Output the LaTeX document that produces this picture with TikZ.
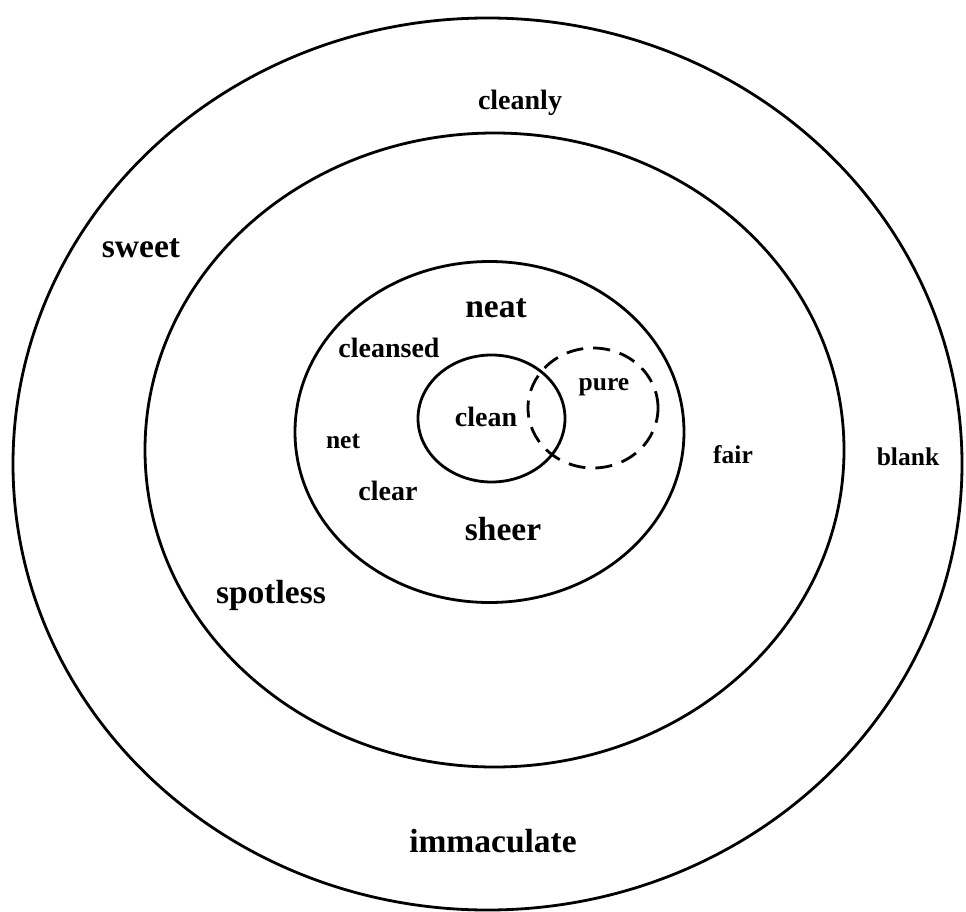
\documentclass[tikz,border=0pt]{standalone}
\usepackage{fontspec}
\setmainfont{Liberation Serif}
\usetikzlibrary{shapes.geometric, positioning}

\begin{document}
\begin{tikzpicture}[x=1pt, y=-1pt, line width=2.8pt,
    ring/.style={draw, ellipse, inner sep=0pt},
    overlap/.style={draw, ellipse, inner sep=0pt, dash pattern=on 17pt off 10pt},
    bigword/.style={anchor=base, inner sep=0pt, font=\fontsize{33.5}{36}\selectfont\bfseries},
    word/.style={anchor=base, inner sep=0pt, font=\fontsize{28}{32}\selectfont\bfseries},
    smallword/.style={anchor=base, inner sep=0pt, font=\fontsize{25.5}{30}\selectfont\bfseries}]

    \useasboundingbox[fill=white] (0,0) rectangle (966,912);

    % Rings
    \node (outer) [ring, minimum width=949pt, minimum height=892pt] at (487.5,464) {};
    \node (middle) [ring, minimum width=699pt, minimum height=634pt] at (494.5,450) {};
    \node (inner) [ring, minimum width=389pt, minimum height=341pt] at (489.5,432) {};
    \node (core) [ring, minimum width=147pt, minimum height=127pt] at (491.5,418.5) {};
    \node (side) [overlap, minimum width=130pt, minimum height=120pt] at (593,408) {};

    % Words
    \node (cleanly) [word] at (520,110) {cleanly};
    \node (sweet) [bigword] at (141,257) {sweet};
    \node (neat) [bigword] at (496,317) {neat};
    \node (cleansed) [word] at (389,357) {cleansed};
    \node (pure) [smallword] at (604,390) {pure};
    \node (clean) [word] at (486,426) {clean};
    \node (net) [smallword] at (343,448) {net};
    \node (fair) [smallword] at (733,463) {fair};
    \node (blank) [smallword] at (908,465) {blank};
    \node (clear) [word] at (388,500) {clear};
    \node (sheer) [bigword] at (503,540) {sheer};
    \node (spotless) [bigword] at (271,603) {spotless};
    \node (immaculate) [bigword] at (493,852) {immaculate};
\end{tikzpicture}
\end{document}
